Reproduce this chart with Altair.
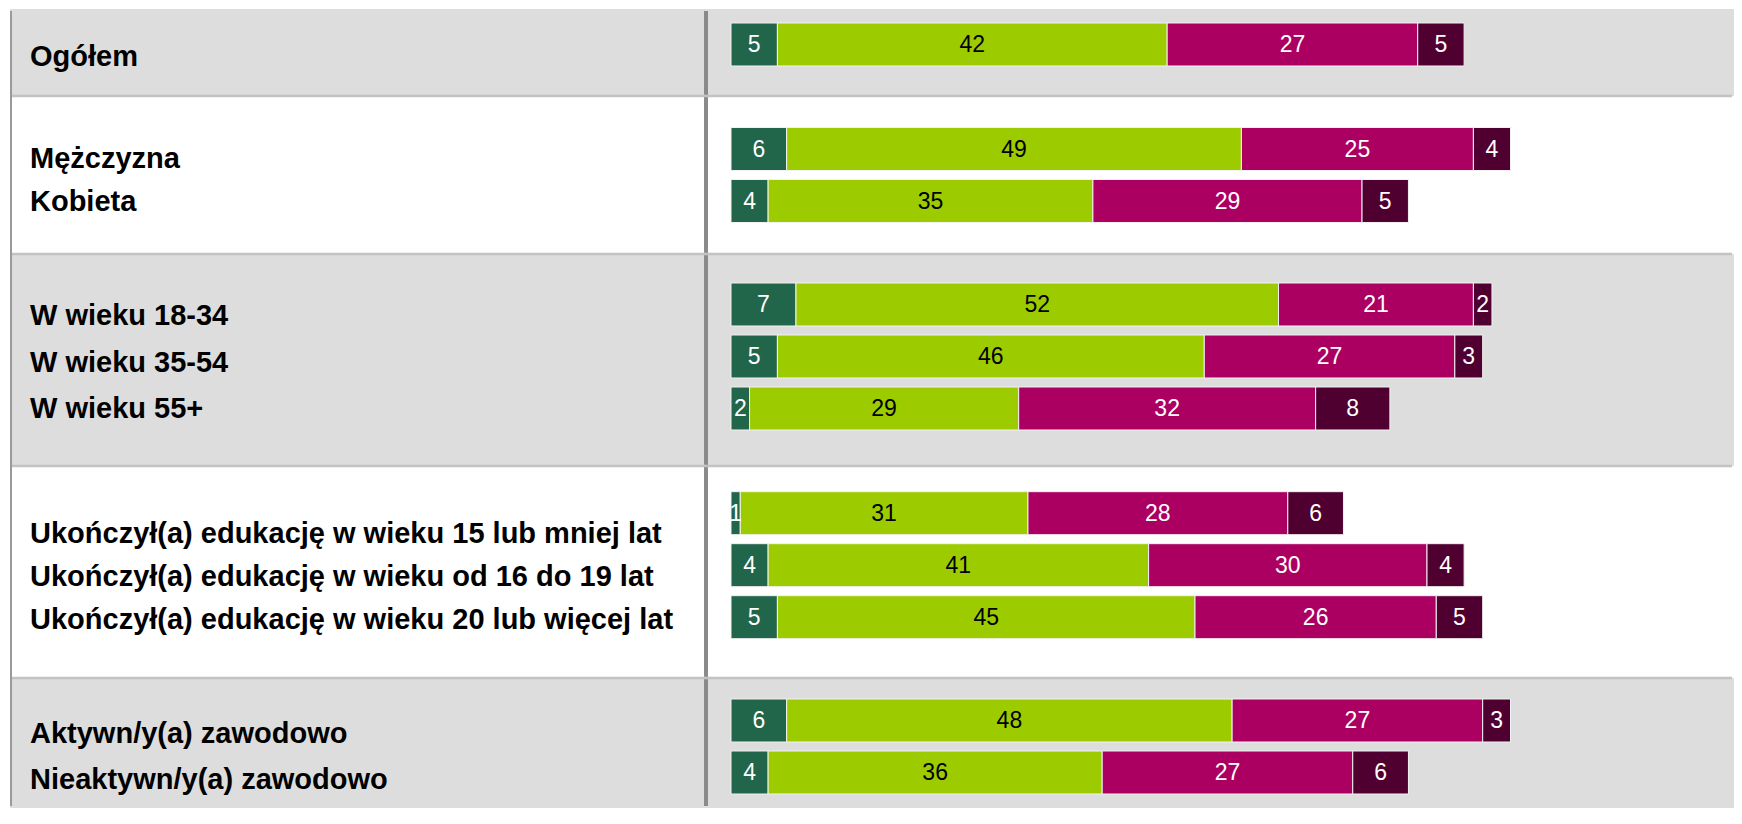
import altair as alt
import pandas as pd

# ---- data ----
labels = [
    "Ogółem",
    "Mężczyzna",
    "Kobieta",
    "W wieku 18-34",
    "W wieku 35-54",
    "W wieku 55+",
    "Ukończył(a) edukację w wieku 15 lub mniej lat",
    "Ukończył(a) edukację w wieku od 16 do 19 lat",
    "Ukończył(a) edukację w wieku 20 lub więcej lat",
    "Aktywn/y(a) zawodowo",
    "Nieaktywn/y(a) zawodowo",
]
groups = [0, 1, 1, 2, 2, 2, 3, 3, 3, 4, 4]
series_names = ["Zdecydowanie tak", "Raczej tak", "Raczej nie", "Zdecydowanie nie"]
s1 = [5, 6, 4, 7, 5, 2, 1, 4, 5, 6, 4]
s2 = [42, 49, 35, 52, 46, 29, 31, 41, 45, 48, 36]
s3 = [27, 25, 29, 21, 27, 32, 28, 30, 26, 27, 27]
s4 = [5, 4, 5, 2, 3, 8, 6, 4, 5, 3, 6]
series_values = [s1, s2, s3, s4]

# ---- styles / layout ----
series_colors = ["#21654a", "#9ccc00", "#ab0062", "#4f0030"]
band_fill = ["#dddddd", "#ffffff", "#dddddd", "#ffffff", "#dddddd"]
BAND_H = [87, 158, 212, 212, 130]
BAR_PO = [0.423, 0.606, 0.625, 0.625, 0.3365]
BAR_ALIGN = [0.318, 0.5, 0.446, 0.395, 0.6]
LAB_PO = [0.446, 0.824, 0.78, 0.954, 0.404]
LAB_ALIGN = [0.561, 0.547, 0.507, 0.535, 0.817]
LEFT_W = 696
RIGHT_W = 1028
PX_PER_UNIT = 9.28
X0_OFFSET = 25
xdom = [-X0_OFFSET / PX_PER_UNIT, (RIGHT_W - X0_OFFSET) / PX_PER_UNIT]
FONT = "Liberation Sans"

rows = []
for i, lab in enumerate(labels):
    for k, name in enumerate(series_names):
        rows.append({"label": lab, "group": groups[i], "series": name,
                     "order": k, "value": series_values[k][i]})
df = pd.DataFrame(rows)
lab_df = pd.DataFrame({"label": labels, "group": groups})
one = pd.DataFrame({"k": [0]})
NB = len(BAND_H)


def band(g):
    H = BAND_H[g]
    labs = [l for l, gg in zip(labels, groups) if gg == g]
    fill = band_fill[g]
    # vertical rules kept inside the chart's outer bounds
    vy0 = 2 if g == 0 else 0
    vy1 = H - 2 if g == NB - 1 else H

    # left (labels) panel
    ltext = alt.Chart(lab_df).transform_filter(alt.datum.group == g).mark_text(
        align="left", baseline="middle", font=FONT, fontSize=29,
        fontWeight="bold", color="#000000", dy=2
    ).encode(
        x=alt.value(20),
        y=alt.Y("label:N", sort=labs,
                scale=alt.Scale(type="band", paddingInner=0,
                                paddingOuter=LAB_PO[g], align=LAB_ALIGN[g]),
                axis=None),
        text=alt.Text("label:N"),
    )
    lborder = alt.Chart(one).mark_rule(color="#9a9a9a", strokeWidth=2).encode(
        x=alt.value(1), y=alt.value(vy0), y2=alt.value(vy1))
    llayers = [ltext, lborder]
    if g > 0:
        llayers.append(alt.Chart(one).mark_rule(color="#c2c2c2", strokeWidth=2.5).encode(
            x=alt.value(2), x2=alt.value(LEFT_W), y=alt.value(0)))
    left = alt.layer(*llayers).properties(
        width=LEFT_W, height=H, view=alt.ViewBackground(fill=fill, strokeWidth=0))

    # right (bars) panel
    base = alt.Chart(df).transform_filter(alt.datum.group == g).transform_stack(
        stack="value", groupby=["label"],
        sort=[alt.SortField(field="order", order="ascending")],
        as_=["x0", "x1"],
    ).transform_calculate(mid="(datum.x0 + datum.x1) / 2")
    yenc = alt.Y("label:N", sort=labs,
                 scale=alt.Scale(type="band", paddingInner=0.173,
                                 paddingOuter=BAR_PO[g], align=BAR_ALIGN[g]),
                 axis=None)
    xscale = alt.Scale(domain=xdom, nice=False, zero=False)
    bars = base.mark_bar(stroke="#f2f2f2", strokeWidth=1).encode(
        x=alt.X("x0:Q", scale=xscale, axis=None),
        x2="x1:Q",
        y=yenc,
        color=alt.Color("series:N", scale=alt.Scale(domain=series_names, range=series_colors),
                        legend=None),
    )
    txt = base.mark_text(font=FONT, fontSize=23, baseline="middle", dy=1).encode(
        x=alt.X("mid:Q", scale=xscale, axis=None),
        y=yenc,
        text=alt.Text("value:Q"),
        color=alt.condition("datum.order == 1", alt.value("#000000"), alt.value("#ffffff")),
    )
    divider = alt.Chart(one).mark_rule(color="#8a8a8a", strokeWidth=4).encode(
        x=alt.value(0), y=alt.value(vy0), y2=alt.value(vy1))
    rlayers = [bars, txt, divider]
    if g > 0:
        rlayers.append(alt.Chart(one).mark_rule(color="#c2c2c2", strokeWidth=2.5).encode(
            x=alt.value(-2), x2=alt.value(RIGHT_W - 2), y=alt.value(0)))
    right = alt.layer(*rlayers).properties(
        width=RIGHT_W, height=H, view=alt.ViewBackground(fill=fill, strokeWidth=0))

    return [left, right]


panels = []
for g in range(NB):
    panels.extend(band(g))

chart = alt.concat(*panels, columns=2, spacing=0, bounds="flush").properties(
    padding={"left": 2, "top": 1, "right": 0, "bottom": 0}
).configure_view(strokeWidth=0)

chart.save("out.html", embed_options={"renderer": "svg", "actions": False})
